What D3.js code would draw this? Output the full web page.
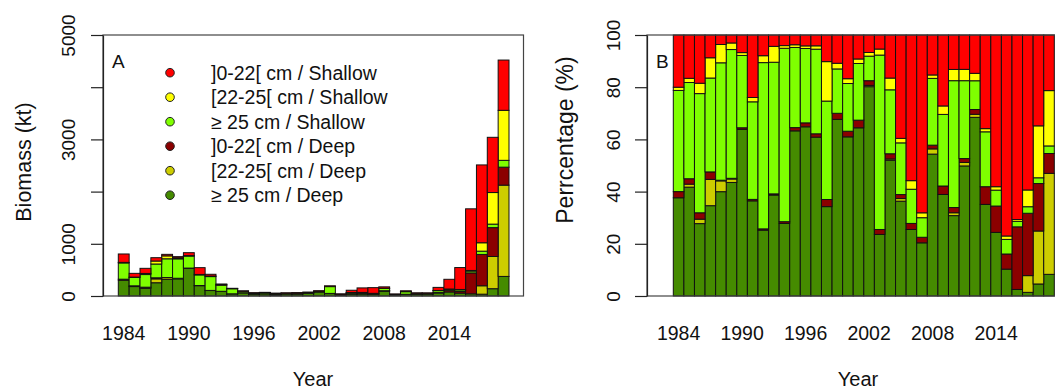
<!DOCTYPE html>
<html>
<head>
<meta charset="utf-8">
<script src="https://cdn.jsdelivr.net/npm/d3@7"></script>
<style>
  html, body { margin: 0; padding: 0; background: #fff; }
  svg { display: block; font-family: "Liberation Sans", Arial, Helvetica, sans-serif; }
</style>
</head>
<body>
<svg id="chart" width="1055" height="390"></svg>
<script>
// ---------------- data ----------------
const years = [1984,1985,1986,1987,1988,1989,1990,1991,1992,1993,1994,1995,1996,1997,1998,1999,2000,2001,
               2002,2003,2004,2005,2006,2007,2008,2009,2010,2011,2012,2013,2014,2015,2016,2017,2018,2019];
// biomass (kt) per class
const deep25   = [303,181,147,254,319,328,530,198,105,89,41,61,38.9,42.6,18.8,40.6,39.7,48.4,80.2,46,20.8,40,39.5,32.6,95.2,15.6,30.8,29.9,41,57.9,78,56.1,41.8,35,140,375];
const deep2225 = [0,5,9,74,33,10,0,0,0,0,0,0,0,0,0,0,0,0,0.5,0,0.2,1.1,0,0,3.5,0,1.1,0.8,0.7,0,0,0,0,161,617,1749];
const deep022  = [19,9,13,21,2,2,5,3,2,1,1,1.2,0.9,0.9,1.5,1.4,1.4,2.2,1.8,3.7,0.8,1.7,3.6,3.4,2.5,1.3,2,0.9,1.1,11.2,32.3,31.6,400.8,600,553,344];
const shal25   = [312,160,242,264,359,372,230,203,265,116,98,29.6,17.1,22.7,20.7,10.2,11.9,16.3,9.4,130.3,9.8,21.8,20.3,12,44.8,11,48.6,17.9,6.6,34.7,19.5,30.5,35.1,63,67,131];
const shal2225 = [10,7,21,57,56,19,9,9,11,14,1.5,1,0.6,0.9,8.3,1.3,1.2,1.3,1.4,4.5,1.8,1.9,5.1,3,2.3,1.3,4.3,2.6,1.7,2,4.2,7.1,11.7,161,605,958];
const shal022  = [161,72,98,64,29,23,56,130,33,10,6,3.6,2.5,2.9,5.6,6.5,10.9,6.9,6.7,10.5,6.6,43.6,86.5,109,26.8,10.9,13.2,7.9,8.8,59.2,186,419.7,1180.7,1491,1058,963];

const seriesKeys   = ["deep25","deep2225","deep022","shal25","shal2225","shal022"]; // bottom -> top
const seriesLabels = {
  shal022: "]0-22[ cm / Shallow", shal2225: "[22-25[ cm / Shallow", shal25: "\u2265 25 cm / Shallow",
  deep022: "]0-22[ cm / Deep", deep2225: "[22-25[ cm / Deep", deep25: "\u2265 25 cm / Deep"
};
const seriesColors = {
  shal022: "#FF0000", shal2225: "#FFFF00", shal25: "#7FFF00",
  deep022: "#8B0000", deep2225: "#CDCD00", deep25: "#458B00"
};
const legendOrder = ["shal022","shal2225","shal25","deep022","deep2225","deep25"];
const biomassTicks = [0,1000,2000,3000,4000,5000];
const biomassLabels = [0,1000,3000,5000];
const pctTicks = [0,20,40,60,80,100];
const yearLabels = [1984,1990,1996,2002,2008,2014];

// ---------------- build rows ----------------
const src = {deep25, deep2225, deep022, shal25, shal2225, shal022};
const rows = years.map((y,i) => {
  const r = {year: y};
  seriesKeys.forEach(k => r[k] = src[k][i]);
  return r;
});
const rowsPct = rows.map(r => {
  const tot = d3.sum(seriesKeys, k => r[k]);
  const o = {year: r.year};
  seriesKeys.forEach(k => o[k] = r[k] / tot * 100);
  return o;
});

const svg = d3.select("#chart");
const stack = d3.stack().keys(seriesKeys);

function panel(opts) {
  const g = svg.append("g");
  const x = d3.scaleBand().domain(years).range(opts.barRange).padding(0);
  const y = d3.scaleLinear().domain(opts.yDomain).range([296, 35]);
  const stacked = stack(opts.data);

  // bars
  g.selectAll("g.layer").data(stacked).join("g")
    .attr("class","layer")
    .attr("fill", d => seriesColors[d.key])
    .selectAll("rect").data(d => d).join("rect")
      .attr("x", d => x(d.data.year))
      .attr("width", x.bandwidth())
      .attr("y", d => y(d[1]))
      .attr("height", d => Math.max(0, y(d[0]) - y(d[1])))
      .attr("stroke", "#111")
      .attr("stroke-width", 1);

  // box
  g.append("rect")
    .attr("x", opts.box[0]).attr("y", 35)
    .attr("width", opts.box[1] - opts.box[0]).attr("height", 296 - 35)
    .attr("fill", "none").attr("stroke", "#444").attr("stroke-width", 1.2);

  // y axis
  const ya = d3.axisLeft(y).tickValues(opts.yTicks).tickSize(12).tickSizeOuter(0)
    .tickFormat(d => opts.yLabels.includes(d) ? d : "");
  const yg = g.append("g").attr("transform", `translate(${opts.box[0]},0)`).call(ya);
  yg.select(".domain").attr("stroke", "#222").attr("stroke-width", 1.2);
  yg.selectAll(".tick line").attr("stroke", "#222").attr("stroke-width", 1.2);
  yg.selectAll(".tick text")
    .attr("font-size", 19).attr("fill", "#111")
    .attr("x", 0).attr("dy", 0)
    .attr("text-anchor", "middle")
    .attr("transform", `translate(${-(opts.box[0] - opts.yLabelX)},0) rotate(-90)`);

  // x labels
  const xa = d3.axisBottom(x).tickValues(yearLabels).tickSize(0);
  const xg = g.append("g").attr("transform", "translate(0,296)").call(xa);
  xg.select(".domain").remove();
  xg.selectAll(".tick text").attr("font-size", 19.5).attr("fill", "#111").attr("dy", 0).attr("y", 44);

  // titles
  g.append("text").attr("x", opts.xTitleX).attr("y", 386).attr("text-anchor","middle")
    .attr("font-size", 20).attr("fill","#111").text("Year");
  g.append("text")
    .attr("transform", `translate(${opts.yTitleX},${opts.yTitleY}) rotate(-90)`)
    .attr("text-anchor","middle").attr("font-size", opts.yTitleSize).attr("fill","#111").text(opts.yTitle);

  // panel letter
  g.append("text").attr("x", opts.box[0] + 9).attr("y", 68).attr("font-size", 19)
    .attr("fill","#111").text(opts.letter);
  return g;
}

panel({data: rows, barRange: [118.3, 509], yDomain: [0,5000], box: [103, 523.5],
       yTicks: biomassTicks, yLabels: biomassLabels, yLabelX: 75,
       yTitle: "Biomass (kt)", yTitleX: 31, yTitleY: 162, yTitleSize: 21.5, xTitleX: 313, letter: "A"});

panel({data: rowsPct, barRange: [673.3, 1054.3], yDomain: [0,100], box: [647, 1080],
       yTicks: pctTicks, yLabels: pctTicks, yLabelX: 620,
       yTitle: "Perrcentage (%)", yTitleX: 573, yTitleY: 140, yTitleSize: 23, xTitleX: 858, letter: "B"});

// legend (panel A)
const leg = svg.append("g");
legendOrder.forEach((k,i) => {
  const cy = 72.7 + i * 24.5;
  leg.append("circle").attr("cx", 170).attr("cy", cy).attr("r", 4.3)
    .attr("fill", seriesColors[k]).attr("stroke", "#222").attr("stroke-width", 1);
  leg.append("text").attr("x", 211).attr("y", cy).attr("dy", "0.36em")
    .attr("font-size", 19.5).attr("fill", "#111").text(seriesLabels[k]);
});
</script>
</body>
</html>
